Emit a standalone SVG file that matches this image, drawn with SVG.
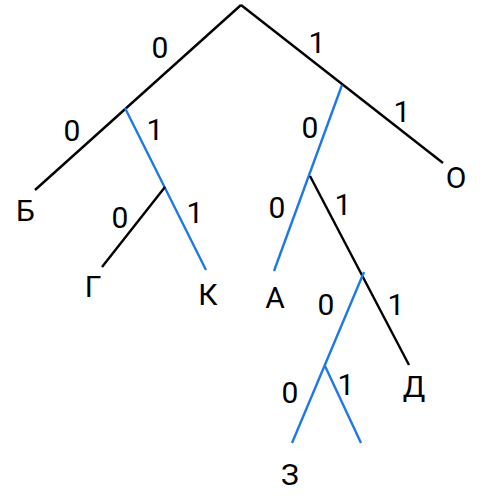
<svg xmlns="http://www.w3.org/2000/svg" width="484" height="500" viewBox="0 0 484 500">
<style>
.e{stroke:#000;stroke-width:2.4;fill:none;stroke-linecap:butt}
.b{stroke:#1f78e8;stroke-width:2.4;fill:none}
text{font-family:Roboto,"Noto Sans",sans-serif;font-size:30px;font-weight:400;fill:#000;text-anchor:middle}
</style>
<rect width="484" height="500" fill="#fff"/>
<g id="connectors">
<line class="e" x1="241" y1="5" x2="35" y2="190"/>
<line class="e" x1="241" y1="5" x2="443" y2="163"/>
<line class="b" x1="125" y1="108" x2="206" y2="270"/>
<line class="e" x1="165" y1="187" x2="102" y2="267"/>
<line class="b" x1="342" y1="85" x2="274" y2="271"/>
<line class="e" x1="310" y1="176" x2="409" y2="365"/>
<line class="b" x1="364" y1="272" x2="292" y2="443"/>
<line class="b" x1="325" y1="366" x2="361" y2="443"/>
</g>
<g id="edge-labels">
<text x="160" y="58">0</text>
<text x="317" y="53">1</text>
<text x="72" y="141">0</text>
<text x="155" y="140">1</text>
<text x="120" y="228">0</text>
<text x="195" y="223">1</text>
<text x="310" y="138">0</text>
<text x="402" y="122">1</text>
<text x="277" y="218">0</text>
<text x="343" y="215">1</text>
<text x="326" y="315">0</text>
<text x="396" y="315">1</text>
<text x="290" y="403">0</text>
<text x="346" y="395">1</text>
</g>
<g id="node-B"><text x="25.5" y="221">Б</text></g>
<g id="node-G"><text x="93" y="297">Г</text></g>
<g id="node-K"><text x="208" y="305">К</text></g>
<g id="node-A"><text x="275" y="308">А</text></g>
<g id="node-O"><text x="456" y="188">О</text></g>
<g id="node-D"><text x="414" y="397">Д</text></g>
<g id="node-Z"><text x="290" y="485">З</text></g>
</svg>
